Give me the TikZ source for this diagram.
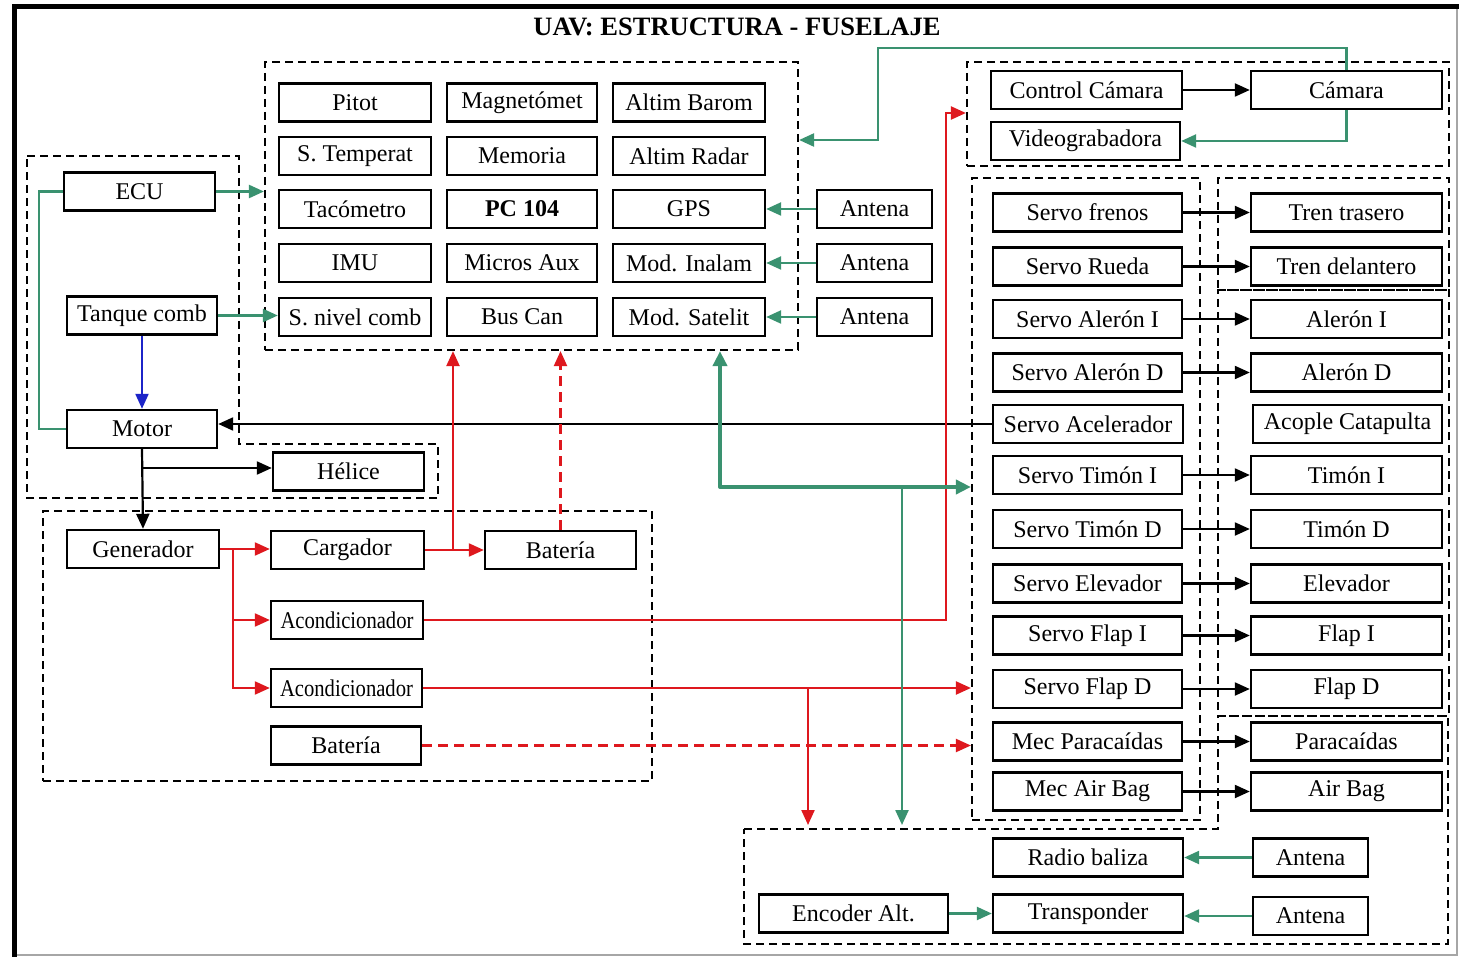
\documentclass[tikz,border=0pt]{standalone}
\usepackage{fontspec}
\usepackage{graphicx}
\setmainfont{Liberation Serif}
\usetikzlibrary{arrows.meta}
\definecolor{lgreen}{RGB}{58,146,112}
\definecolor{lred}{RGB}{222,24,30}
\definecolor{lblue}{RGB}{28,36,200}
\tikzset{
  box/.style={draw=black, line width=2.4pt, fill=white, inner sep=0pt,
    minimum height=38pt, font=\fontsize{24}{26}\selectfont},
  grp/.style={draw=black, line width=2.2pt, dash pattern=on 8pt off 5pt, inner sep=0pt},
  tip/.style={-{Triangle[length=15pt,width=13pt]}},
  blk/.style={tip, draw=black, line width=2.2pt},
  grn/.style={tip, draw=lgreen, line width=2.4pt},
  grnthick/.style={draw=lgreen, line width=4pt, line cap=round, line join=round},
  rd/.style={tip, draw=lred, line width=2.2pt},
  rdd/.style={rd, dash pattern=on 10pt off 6pt},
  blu/.style={tip, draw=lblue, line width=2.2pt},
}
\begin{document}
\begin{tikzpicture}[x=1pt,y=-1pt]
\useasboundingbox (0,0) rectangle (1459,957);
\fill[white] (0,0) rectangle (1459,957);
% outer frame
\draw[gray!70, line width=1.5pt] (14,955) -- (1457,955) -- (1457,7);
\draw[black, line width=5pt] (14,957) -- (14,7) -- (1459,7);
\node[font=\bfseries\fontsize{26.5}{29}\selectfont] (title) at (737,27) {UAV: ESTRUCTURA - FUSELAJE};

% dashed groups
\node[grp, minimum width=533pt, minimum height=288pt] (sens) at (531.5,206) {};
\node[grp, minimum width=482pt, minimum height=104pt] (camg) at (1208,114) {};
\node[grp, minimum width=228pt, minimum height=642pt] (servg) at (1086,499) {};
\node[grp, minimum width=231pt, minimum height=112pt] (treng) at (1333.5,234) {};
\node[grp, minimum width=231pt, minimum height=426pt] (surfg) at (1333.5,503) {};
\node[grp, minimum width=609pt, minimum height=270pt] (powg) at (347.5,646) {};
\coordinate (m1) at (27,156); \coordinate (m2) at (239,156); \coordinate (m3) at (239,444);
\coordinate (m4) at (438,444); \coordinate (m5) at (438,498); \coordinate (m6) at (27,498);
\draw[grp] (m1) -- (m2) -- (m3) -- (m4) -- (m5) -- (m6) -- cycle;
\coordinate (b1) at (744,829); \coordinate (b2) at (1218,829); \coordinate (b3) at (1218,716);
\coordinate (b4) at (1448,716); \coordinate (b5) at (1448,944); \coordinate (b6) at (744,944);
\draw[grp] (b1) -- (b2) -- (b3) -- (b4) -- (b5) -- (b6) -- cycle;

% sensors and avionics
\node[box, minimum width=152pt] (pitot) at (355,102.5) {Pitot};
\node[box, minimum width=150pt] (magn) at (522,102.5) {Magnetómet};
\node[box, minimum width=152pt] (altb) at (689,102.5) {Altim Barom};
\node[box, minimum width=152pt] (stemp) at (355,156) {S. Temperat};
\node[box, minimum width=150pt] (mem) at (522,156) {Memoria};
\node[box, minimum width=152pt] (altr) at (689,156) {Altim Radar};
\node[box, minimum width=152pt] (taco) at (355,209) {Tacómetro};
\node[box, minimum width=150pt, font=\bfseries\fontsize{24}{26}\selectfont] (pc) at (522,209) {PC 104};
\node[box, minimum width=152pt] (gps) at (689,209) {GPS};
\node[box, minimum width=152pt] (imu) at (355,263) {IMU};
\node[box, minimum width=150pt] (micros) at (522,263) {Micros Aux};
\node[box, minimum width=152pt] (modin) at (689,263) {Mod. Inalam};
\node[box, minimum width=152pt] (snivel) at (355,317) {S. nivel comb};
\node[box, minimum width=150pt] (bus) at (522,317) {Bus Can};
\node[box, minimum width=152pt] (modsat) at (689,317) {Mod. Satelit};
\node[box, minimum width=115pt] (ant1) at (874.5,209) {Antena};
\node[box, minimum width=115pt] (ant2) at (874.5,263) {Antena};
\node[box, minimum width=115pt] (ant3) at (874.5,317) {Antena};

% engine
\node[box, minimum width=151pt] (ecu) at (139.5,191.5) {ECU};
\node[box, minimum width=150pt] (tanque) at (142,315.5) {Tanque comb};
\node[box, minimum width=150pt] (motor) at (142,429) {Motor};
\node[box, minimum width=151pt] (helice) at (348.5,471.5) {Hélice};

% power
\node[box, minimum width=152pt] (gen) at (143,549) {Generador};
\node[box, minimum width=153pt] (carg) at (347.5,550) {Cargador};
\node[box, minimum width=151pt] (bat1) at (560.5,550) {Batería};
\node[box, minimum width=152pt] (acond1) at (347,620) {\scalebox{0.86}[1]{Acondicionador}};
\node[box, minimum width=151pt] (acond2) at (346.5,688) {\scalebox{0.86}[1]{Acondicionador}};
\node[box, minimum width=150pt] (bat2) at (346,745.5) {Batería};

% camera
\node[box, minimum width=191pt] (ccam) at (1086.5,90) {Control Cámara};
\node[box, minimum width=191pt] (cam) at (1346.5,90) {Cámara};
\node[box, minimum width=189pt] (video) at (1085.5,141) {Videograbadora};

% servos and actuators
\foreach \n/\y/\s/\a in {
  fre/212.5/Servo frenos/Tren trasero,
  rue/266.5/Servo Rueda/Tren delantero,
  ali/319/Servo Alerón I/Alerón I,
  ald/372.5/Servo Alerón D/Alerón D,
  tii/475/Servo Timón I/Timón I,
  tid/529/Servo Timón D/Timón D,
  ele/583.5/Servo Elevador/Elevador,
  fli/635.5/Servo Flap I/Flap I,
  fld/689/Servo Flap D/Flap D,
  par/741.5/Mec Paracaídas/Paracaídas,
  air/791.5/Mec Air Bag/Air Bag}{
  \node[box, minimum width=189pt] (s\n) at (1087.5,\y) {\s};
  \node[box, minimum width=191pt] (a\n) at (1346.5,\y) {\a};
  \draw[blk] (s\n.east) -- (a\n.west);
}
\node[box, minimum width=190pt] (sacel) at (1088,424) {Servo Acelerador};
\node[box, minimum width=189pt] (acat) at (1347.5,424) {Acople Catapulta};

% radio
\node[box, minimum width=190pt] (radio) at (1088,857.5) {Radio baliza};
\node[box, minimum width=115pt] (antr) at (1310.5,857.5) {Antena};
\node[box, minimum width=190pt] (transp) at (1088,913.5) {Transponder};
\node[box, minimum width=115pt] (antt) at (1310.5,916) {Antena};
\node[box, minimum width=189pt] (enc) at (853.5,913.5) {Encoder Alt.};

% connectors: camera
\draw[blk] (ccam.east) -- (cam.west);
\coordinate (k1) at (878,140);
\draw[grn] (cam.north) -- ++(0,-22) -| (k1) -- (k1 -| sens.east);
\draw[grn] (cam.south) |- (video.east);

% connectors: antennas
\draw[grn] (ant1.west) -- (gps.east);
\draw[grn] (ant2.west) -- (modin.east);
\draw[grn] (ant3.west) -- (modsat.east);
\draw[grn] (antr.west) -- (radio.east);
\draw[grn] (antt.west) -- (antt.west -| transp.east);
\draw[grn] (enc.east) -- (transp.west);

% connectors: engine
\draw[grn] (ecu.east) -- (ecu.east -| sens.west);
\draw[draw=lgreen, line width=2.4pt] (ecu.west) -- ++(-24,0) |- (motor.west);
\draw[grn] (tanque.east) -- (tanque.east -| snivel.west);
\draw[blu] (tanque.south) -- (motor.south |- motor.north);
\draw[blk] (motor.south) -- (gen.north);
\coordinate (hj) at (142,468);
\draw[blk] (hj) -- (hj -| helice.west);
\draw[blk] (sacel.west) -- (sacel.west -| motor.east);

% connectors: power
\coordinate (rj) at (233,549);
\draw[rd] (gen.east) -- (gen.east -| carg.west);
\draw[rd] (rj) |- (acond1.west);
\draw[rd] (rj) |- (acond2.west);
\coordinate (rj2) at (453,550);
\draw[rd] (carg.east) -- (bat1.west);
\draw[rd] (rj2) -- (rj2 |- sens.south);
\draw[rdd] (bat1.north) -- (bat1.north |- sens.south);
\coordinate (rk) at (946,113);
\draw[rd] (acond1.east) -| (rk) -- (rk -| camg.west);
\draw[rd] (acond2.east) -- (acond2.east -| servg.west);
\coordinate (rb) at (808,688);
\coordinate (rbe) at (808,825);
\draw[rd] (rb) -- (rbe);
\draw[rdd] (bat2.east) -- (bat2.east -| servg.west);

% connectors: data bus
\coordinate (gt) at (720,487);
\draw[grnthick, {Triangle[length=15pt,width=14pt]}-{Triangle[length=15pt,width=14pt]}] (gt |- sens.south) -- (gt) -- (gt -| servg.west);
\coordinate (gb) at (902,487);
\coordinate (gbe) at (902,825);
\draw[grn] (gb) -- (gbe);
\end{tikzpicture}
\end{document}
